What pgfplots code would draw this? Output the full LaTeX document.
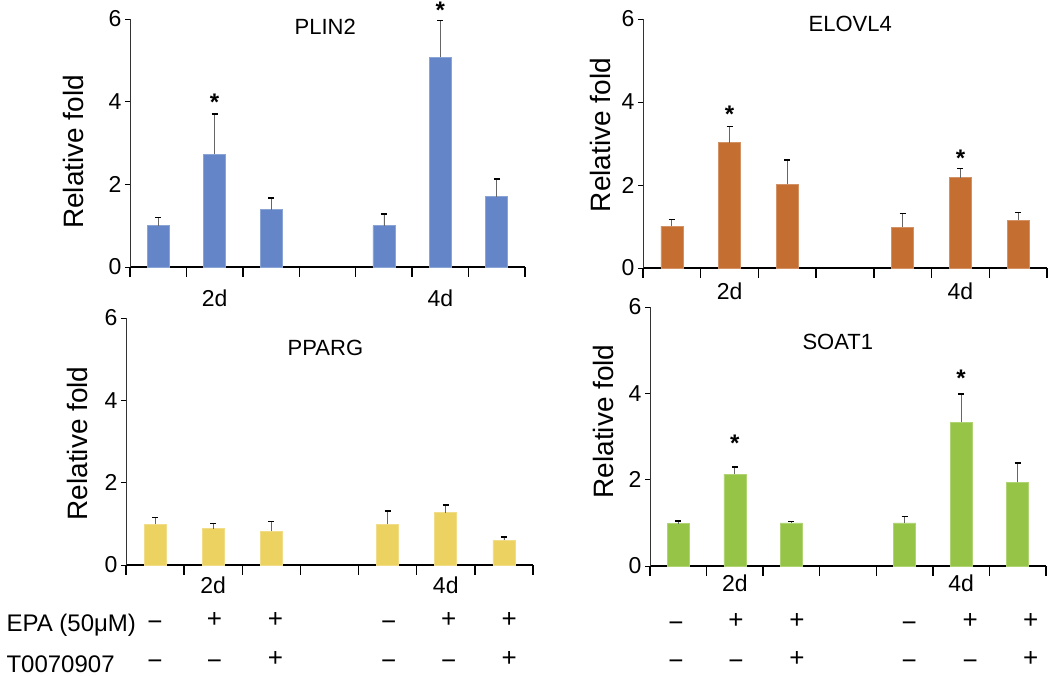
\documentclass[border=0pt]{standalone}
\usepackage{fontspec}
\setmainfont{Liberation Sans}
\usepackage{pgfplots}
\pgfplotsset{compat=1.18}
\usepackage{pgfplotstable}

\definecolor{barblue}{RGB}{100,133,200}
\definecolor{barorange}{RGB}{196,110,50}
\definecolor{baryellow}{RGB}{236,210,96}
\definecolor{bargreen}{RGB}{150,196,70}

% x = slot (4 is the gap between 2d and 4d), y = mean, e = upper error
\pgfplotstableread{
x y e
1 1.00 0.20
2 2.73 0.97
3 1.39 0.28
5 1.00 0.28
6 5.07 0.89
7 1.70 0.43
}\plintwo
\pgfplotstableread{
x y e
1 1.01 0.16
2 3.02 0.39
3 2.02 0.58
5 0.98 0.34
6 2.18 0.22
7 1.15 0.19
}\elovlfour
\pgfplotstableread{
x y e
1 0.99 0.16
2 0.88 0.13
3 0.82 0.23
5 0.99 0.32
6 1.27 0.19
7 0.60 0.08
}\pparg
\pgfplotstableread{
x y e
1 0.98 0.06
2 2.13 0.16
3 1.00 0.03
5 1.00 0.14
6 3.33 0.65
7 1.94 0.45
}\soatone

\pgfplotsset{
  panel/.style={
    scale only axis,
    anchor=south west,
    xmin=0.5, xmax=7.5, ymin=0, ymax=6,
    axis lines*=left,
    clip=false,
    x axis line style={line width=1.6pt, black},
    y axis line style={line width=0.9pt, black!80},
    ytick={0,2,4,6},
    xtick=\empty,
    extra x ticks={0.5,1.5,2.5,3.5,4.5,5.5,6.5,7.5},
    extra x tick labels={},
    extra x tick style={major tick length=10pt, tick style={line width=1.3pt, black}},
    tick align=outside,
    major tick length=5pt,
    ytick style={line width=0.9pt, black},
    /pgf/number format/assume math mode=true,
    yticklabel style={font=\fontsize{23}{25}\selectfont},
    ylabel={Relative fold},
    ylabel style={font=\fontsize{28}{30}\selectfont, anchor=center},
  },
  bars/.style={
    ybar, bar width=22pt, fill=#1, draw=#1!75!white, line width=0.6pt,
    error bars/.cd, y dir=plus, y explicit,
    error bar style={line width=0.8pt, black!60},
    error mark=-,
    error mark options={rotate=90, mark size=3pt, line width=1.4pt, black},
  },
}
\tikzset{
  gtitle/.style={font=\fontsize{22}{24}\selectfont},
  glab/.style={font=\fontsize{23}{25}\selectfont},
  star/.style={font=\bfseries\fontsize{24}{24}\selectfont},
  sign/.style={font=\fontsize{26}{26}\selectfont, inner sep=0pt,
    text height=0.58em, text depth=0pt},
  neg/.style={sign, yshift=-3pt},
}

\begin{document}
\begin{tikzpicture}
\path[use as bounding box] (0,0) rectangle (1050pt,676pt);

% PLIN2
\begin{axis}[panel, at={(130pt,409pt)}, width=395pt, height=248pt,
  ylabel style={at={([xshift=-57pt]axis description cs:0,0.464)}}]
\addplot[bars=barblue] table[x=x, y=y, y error=e] {\plintwo};
\node[gtitle] at (axis cs:3.96,5.81) {PLIN2};
\node[star] at (axis cs:2,3.98) {*};
\node[star] at (axis cs:6,6.21) {*};
\node[glab] at (axis cs:2,-0.75) {2d};
\node[glab] at (axis cs:6,-0.75) {4d};
\end{axis}

% ELOVL4
\begin{axis}[panel, at={(643pt,408pt)}, width=404pt, height=249pt,
  ylabel style={at={([xshift=-43pt]axis description cs:0,0.534)}}]
\addplot[bars=barorange] table[x=x, y=y, y error=e] {\elovlfour};
\node[gtitle] at (axis cs:4.09,5.88) {ELOVL4};
\node[star] at (axis cs:2,3.70) {*};
\node[star] at (axis cs:6,2.64) {*};
\node[glab] at (axis cs:2,-0.55) {2d};
\node[glab] at (axis cs:6,-0.55) {4d};
\end{axis}

% PPARG
\begin{axis}[panel, at={(126pt,111pt)}, width=407pt, height=247pt,
  ylabel style={at={([xshift=-49pt]axis description cs:0,0.492)}}]
\addplot[bars=baryellow] table[x=x, y=y, y error=e] {\pparg};
\node[gtitle] at (axis cs:3.93,5.28) {PPARG};
\node[glab] at (axis cs:2,-0.49) {2d};
\node[glab] at (axis cs:6,-0.49) {4d};
% treatment rows: EPA
\node[neg] at (axis cs:1.00,-1.46) {−};
\node[sign] at (axis cs:2.02,-1.46) {+};
\node[sign] at (axis cs:3.07,-1.46) {+};
\node[neg] at (axis cs:5.02,-1.46) {−};
\node[sign] at (axis cs:6.05,-1.46) {+};
\node[sign] at (axis cs:7.09,-1.46) {+};
% T0070907
\node[neg] at (axis cs:1.00,-2.40) {−};
\node[neg] at (axis cs:2.02,-2.40) {−};
\node[sign] at (axis cs:3.07,-2.40) {+};
\node[neg] at (axis cs:5.02,-2.40) {−};
\node[neg] at (axis cs:6.05,-2.40) {−};
\node[sign] at (axis cs:7.09,-2.40) {+};
\end{axis}

% SOAT1
\begin{axis}[panel, at={(650pt,110pt)}, width=396pt, height=259pt,
  ylabel style={at={([xshift=-47pt]axis description cs:0,0.558)}}]
\addplot[bars=bargreen] table[x=x, y=y, y error=e] {\soatone};
\node[gtitle] at (axis cs:3.82,5.2) {SOAT1};
\node[star] at (axis cs:2,2.84) {*};
\node[star] at (axis cs:6,4.35) {*};
\node[glab] at (axis cs:2,-0.40) {2d};
\node[glab] at (axis cs:6,-0.40) {4d};
\node[neg] at (axis cs:0.96,-1.37) {−};
\node[sign] at (axis cs:2.02,-1.37) {+};
\node[sign] at (axis cs:3.10,-1.37) {+};
\node[neg] at (axis cs:5.08,-1.37) {−};
\node[sign] at (axis cs:6.16,-1.37) {+};
\node[sign] at (axis cs:7.23,-1.37) {+};
\node[neg] at (axis cs:0.96,-2.27) {−};
\node[neg] at (axis cs:2.02,-2.27) {−};
\node[sign] at (axis cs:3.10,-2.27) {+};
\node[neg] at (axis cs:5.08,-2.27) {−};
\node[neg] at (axis cs:6.16,-2.27) {−};
\node[sign] at (axis cs:7.23,-2.27) {+};
\end{axis}

\node[anchor=west, font=\fontsize{24}{26}\selectfont] at (3pt,51pt) {EPA (50μM)};
\node[anchor=west, font=\fontsize{24}{26}\selectfont] at (3pt,12pt) {T0070907};
\end{tikzpicture}
\end{document}
